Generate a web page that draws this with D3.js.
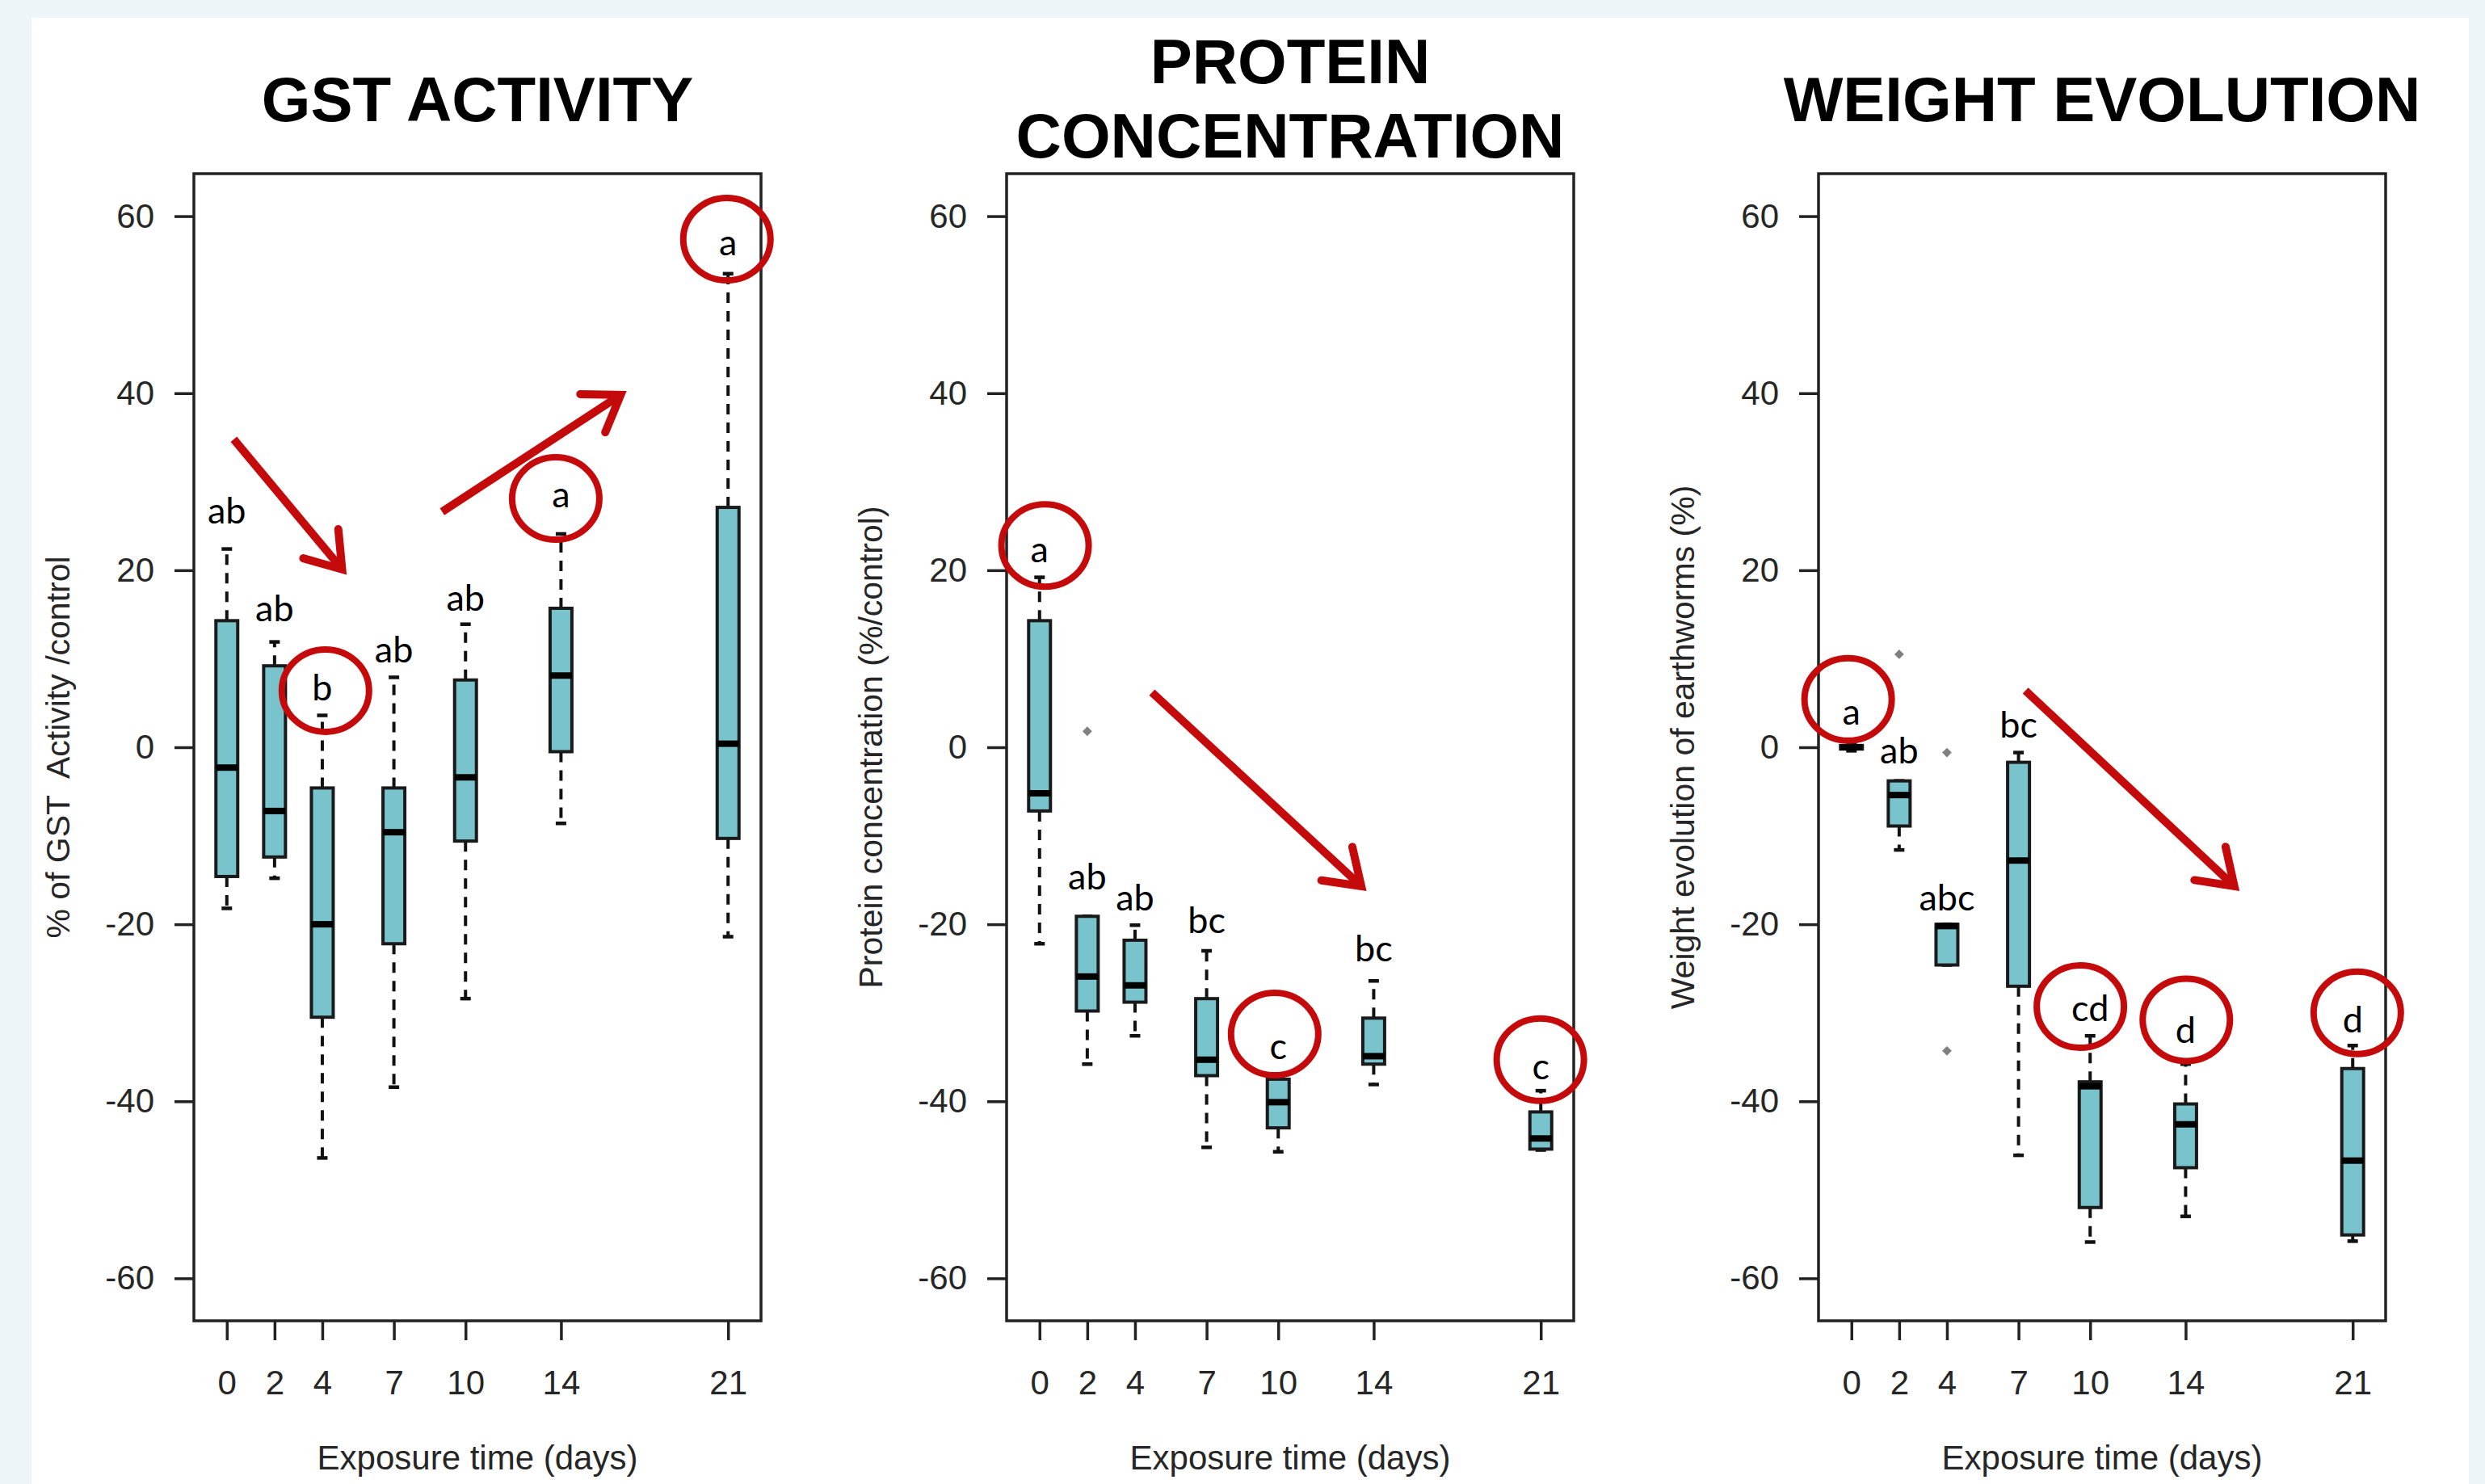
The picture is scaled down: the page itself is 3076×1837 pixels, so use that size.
<!DOCTYPE html>
<html>
<head>
<meta charset="utf-8">
<script src="https://cdn.jsdelivr.net/npm/d3@7"></script>
<style>
  body { margin: 0; background: #eef5f9; }
  svg { display: block; }
  .tick text { font-family: "Liberation Sans", Arial, sans-serif; font-size: 42px; fill: #262626; }
  .tick line { stroke: #222; stroke-width: 3.5; }
</style>
</head>
<body>
<div id="app"></div>
<script>
// exposure days (also the x position of each box)
const days = [0, 2, 4, 7, 10, 14, 21];
const yTicks = [-60, -40, -20, 0, 20, 40, 60];

// GST activity (% / control)
const gstHigh = [22.4, 11.9, 3.6, 7.9, 13.9, 24.1, 53.5];
const gstQ3   = [14.3, 9.2, -4.6, -4.6, 7.6, 15.7, 27.1];
const gstMed  = [-2.3, -7.2, -20, -9.6, -3.4, 8.1, 0.4];
const gstQ1   = [-14.6, -12.4, -30.5, -22.2, -10.6, -0.5, -10.3];
const gstLow  = [-18.2, -14.8, -46.4, -38.4, -28.4, -8.6, -21.4];
const gstOut  = [];
const gstLetters = ["ab", "ab", "b", "ab", "ab", "a", "a"];
const gstLetterY = [25.3, 14.2, 5.3, 9.6, 15.4, 27.1, 55.6];
const gstCircles = [[4.13, 6.4], [13.78, 28.1], [20.95, 57.4]];
const gstArrows  = [[0.29, 34.8, 4.83, 20.1], [9.02, 26.6, 16.5, 39.8]];

// protein concentration (% / control)
const protHigh = [19.2, -19.1, -20.1, -23, -37.5, -26.4, -38.8];
const protQ3   = [14.3, -19.1, -21.8, -28.4, -37.5, -30.6, -41.2];
const protMed  = [-5.2, -25.9, -26.9, -35.3, -40.1, -34.9, -44.2];
const protQ1   = [-7.2, -29.8, -28.8, -37.1, -43, -35.8, -45.4];
const protLow  = [-22.2, -35.8, -32.6, -45.2, -45.7, -38.1, -45.5];
const protOut  = [[2, 1.8]];
const protLetters = ["a", "ab", "ab", "bc", "c", "bc", "c"];
const protLetterY = [20.9, -16.1, -18.4, -21.0, -35.2, -24.2, -37.5];
const protCircles = [[0.23, 22.8], [9.85, -32.4], [20.98, -35.3]];
const protArrows  = [[4.71, 6.2, 13.48, -15.7]];

// weight evolution of earthworms (%)
const wHigh = [0.4, -3.8, -20, -0.6, -32.6, -35.8, -33.7];
const wQ3   = [0.2, -3.8, -20, -1.7, -37.8, -40.3, -36.3];
const wMed  = [0, -5.4, -20.2, -12.8, -38.3, -42.6, -46.7];
const wQ1   = [-0.2, -8.9, -24.6, -27, -52, -47.5, -55.1];
const wLow  = [-0.4, -11.6, -24.6, -46.1, -55.9, -53, -55.8];
const wOut  = [[2, 10.5], [4, -0.6], [4, -34.3]];
const wLetters = ["a", "ab", "abc", "bc", "cd", "d", "d"];
const wLetterY = [2.6, -1.8, -18.4, 1.1, -30.9, -33.4, -32.2];
const wCircles = [[-0.14, 5.4], [9.59, -29.3], [14.03, -30.8], [21.19, -30.0]];
const wArrows  = [[7.29, 6.4, 16.04, -15.7]];

const W = 3076, H = 1837;
const plotTop = 215, plotBottom = 1635, plotW = 702;
const boxFill = "#79c3cc", red = "#c40a0a";

const panels = [
  {left: 240, title: ["GST ACTIVITY"], ylab: "% of GST  Activity /control",
   high: gstHigh, q3: gstQ3, med: gstMed, q1: gstQ1, low: gstLow, out: gstOut,
   letters: gstLetters, letterY: gstLetterY, circles: gstCircles, arrows: gstArrows},
  {left: 1246, title: ["PROTEIN", "CONCENTRATION"], ylab: "Protein concentration (%/control)",
   high: protHigh, q3: protQ3, med: protMed, q1: protQ1, low: protLow, out: protOut,
   letters: protLetters, letterY: protLetterY, circles: protCircles, arrows: protArrows},
  {left: 2251, title: ["WEIGHT EVOLUTION"], ylab: "Weight evolution of earthworms (%)",
   high: wHigh, q3: wQ3, med: wMed, q1: wQ1, low: wLow, out: wOut,
   letters: wLetters, letterY: wLetterY, circles: wCircles, arrows: wArrows}
];

const svg = d3.select("#app").append("svg")
  .attr("width", W)
  .attr("height", H);

svg.append("rect").attr("width", W).attr("height", H).attr("fill", "#eef5f9");
svg.append("rect").attr("x", 39).attr("y", 22).attr("width", 3017).attr("height", H - 22).attr("fill", "#fff");

const y = d3.scaleLinear().domain([-64.8, 64.8]).range([plotBottom, plotTop]);

panels.forEach(p => {
  const x = d3.scaleLinear().domain([-1.38, 22.38]).range([p.left, p.left + plotW]);
  const g = svg.append("g");
  const bw = 27, staple = 13;
  const cx = p.left + plotW / 2;

  // title
  const lines = p.title;
  const baselines = lines.length === 1 ? [150] : [103, 195];
  lines.forEach((t, i) => {
    g.append("text")
      .attr("x", cx)
      .attr("y", baselines[i])
      .attr("text-anchor", "middle")
      .style("font-family", "'Liberation Sans', Arial, sans-serif")
      .style("font-weight", "bold")
      .style("font-size", "78px")
      .style("fill", "#000")
      .text(t);
  });

  const rows = days.map((d, i) => ({
    day: d, high: p.high[i], q3: p.q3[i], med: p.med[i], q1: p.q1[i], low: p.low[i]
  }));

  // whiskers
  const wk = g.append("g").attr("stroke", "#111").attr("stroke-width", 4);
  rows.forEach(r => {
    if (r.high > r.q3) {
      wk.append("line")
        .attr("x1", x(r.day)).attr("x2", x(r.day))
        .attr("y1", y(r.q3)).attr("y2", y(r.high))
        .attr("stroke-dasharray", "13,10");
    }
    if (r.low < r.q1) {
      wk.append("line")
        .attr("x1", x(r.day)).attr("x2", x(r.day))
        .attr("y1", y(r.q1)).attr("y2", y(r.low))
        .attr("stroke-dasharray", "13,10");
    }
    [r.high, r.low].forEach(v => {
      wk.append("line")
        .attr("x1", x(r.day) - staple / 2).attr("x2", x(r.day) + staple / 2)
        .attr("y1", y(v)).attr("y2", y(v))
        .attr("stroke-width", 4.5);
    });
  });

  // boxes
  g.selectAll("rect.box").data(rows).join("rect")
    .attr("class", "box")
    .attr("x", d => x(d.day) - bw / 2)
    .attr("y", d => y(d.q3))
    .attr("width", bw)
    .attr("height", d => Math.max(1, y(d.q1) - y(d.q3)))
    .attr("fill", boxFill)
    .attr("stroke", "#1a1a1a")
    .attr("stroke-width", 4);

  g.selectAll("line.med").data(rows).join("line")
    .attr("class", "med")
    .attr("x1", d => x(d.day) - bw / 2)
    .attr("x2", d => x(d.day) + bw / 2)
    .attr("y1", d => y(d.med))
    .attr("y2", d => y(d.med))
    .attr("stroke", "#000")
    .attr("stroke-width", 8);

  // outliers
  g.selectAll("path.out").data(p.out).join("path")
    .attr("class", "out")
    .attr("d", d3.symbol(d3.symbolSquare, 70))
    .attr("transform", d => `translate(${x(d[0])},${y(d[1])}) rotate(45)`)
    .attr("fill", "#808080");

  // frame
  g.append("rect")
    .attr("x", p.left).attr("y", plotTop)
    .attr("width", plotW).attr("height", plotBottom - plotTop)
    .attr("fill", "none").attr("stroke", "#222").attr("stroke-width", 3.5);

  // axes
  const ya = g.append("g")
    .attr("transform", `translate(${p.left},0)`)
    .call(d3.axisLeft(y).tickValues(yTicks).tickFormat(d => String(d)).tickSize(24).tickPadding(25));
  ya.select(".domain").remove();

  const xa = g.append("g")
    .attr("transform", `translate(0,${plotBottom})`)
    .call(d3.axisBottom(x).tickValues(days).tickFormat(d => String(d)).tickSize(24).tickPadding(37));
  xa.select(".domain").remove();

  // axis titles
  g.append("text")
    .attr("transform", `translate(${p.left - 169},${(plotTop + plotBottom) / 2}) rotate(-90)`)
    .attr("text-anchor", "middle")
    .attr("dy", "0.36em")
    .style("white-space", "pre")
    .style("font-family", "'Liberation Sans', Arial, sans-serif")
    .style("font-size", "41px")
    .style("fill", "#262626")
    .text(p.ylab);

  g.append("text")
    .attr("x", cx)
    .attr("y", 1819)
    .attr("text-anchor", "middle")
    .style("font-family", "'Liberation Sans', Arial, sans-serif")
    .style("font-size", "42px")
    .style("fill", "#262626")
    .text("Exposure time (days)");

  // significance letters
  g.selectAll("text.letter").data(days).join("text")
    .attr("class", "letter")
    .attr("x", d => x(d))
    .attr("y", (d, i) => y(p.letterY[i]))
    .attr("text-anchor", "middle")
    .style("font-family", "Lato, 'Open Sans', sans-serif")
    .style("font-size", "45px")
    .style("fill", "#000")
    .text((d, i) => p.letters[i]);

  // red annotation circles
  g.selectAll("ellipse.hl").data(p.circles).join("ellipse")
    .attr("class", "hl")
    .attr("cx", d => x(d[0]))
    .attr("cy", d => y(d[1]))
    .attr("rx", 54)
    .attr("ry", 51)
    .attr("fill", "none")
    .attr("stroke", red)
    .attr("stroke-width", 8);

  // red trend arrows
  p.arrows.forEach(a => {
    const x1 = x(a[0]), y1 = y(a[1]), x2 = x(a[2]), y2 = y(a[3]);
    const ang = Math.atan2(y2 - y1, x2 - x1);
    const len = 50, spread = 0.6;
    const hx1 = x2 - len * Math.cos(ang - spread), hy1 = y2 - len * Math.sin(ang - spread);
    const hx2 = x2 - len * Math.cos(ang + spread), hy2 = y2 - len * Math.sin(ang + spread);
    const back = 6;
    g.append("line")
      .attr("x1", x1).attr("y1", y1)
      .attr("x2", x2 - back * Math.cos(ang)).attr("y2", y2 - back * Math.sin(ang))
      .attr("stroke", red).attr("stroke-width", 10);
    g.append("path")
      .attr("d", `M${hx1},${hy1}L${x2},${y2}L${hx2},${hy2}`)
      .attr("fill", "none")
      .attr("stroke", red)
      .attr("stroke-width", 10)
      .attr("stroke-linejoin", "miter")
      .attr("stroke-linecap", "round");
  });
});
</script>
</body>
</html>
